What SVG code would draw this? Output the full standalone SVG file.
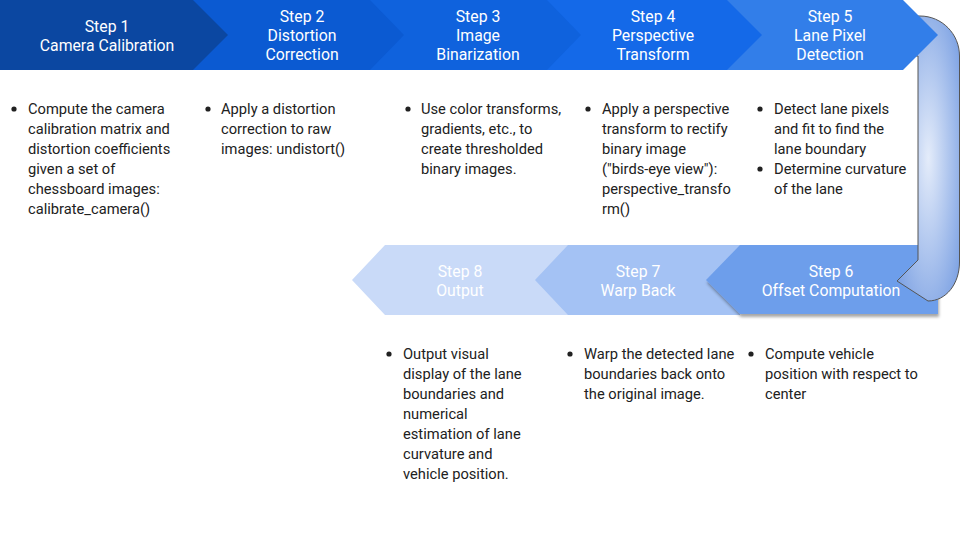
<svg xmlns="http://www.w3.org/2000/svg" width="960" height="540" viewBox="0 0 960 540">
<defs>
<style>
.lbl{font-family:Roboto,"Liberation Sans",sans-serif;font-size:15.8px;fill:#ffffff;text-anchor:middle}
.txt{font-family:Roboto,"Liberation Sans",sans-serif;font-size:14.7px;fill:#212121}
.dot{fill:#212121}
</style>
<radialGradient id="ug" cx="0.5" cy="0.5" r="0.62">
<stop offset="0" stop-color="#e4ecfa"/>
<stop offset="1" stop-color="#80a4e4"/>
</radialGradient>
<filter id="sh" x="-10%" y="-20%" width="125%" height="150%">
<feDropShadow dx="1" dy="3" stdDeviation="1.5" flood-color="#000" flood-opacity="0.35"/>
</filter>
</defs>
<rect width="960" height="540" fill="#ffffff"/>

<g id="step8">
<path d="M352 280 L385 245 L570 245 L570 315 L385 315 Z" fill="#c9daf8"/>
<text class="lbl" x="460" y="277">Step 8</text>
<text class="lbl" x="460" y="296">Output</text>
<circle class="dot" cx="389" cy="354" r="2.6"/>
<text class="txt" x="403" y="359">Output visual</text>
<text class="txt" x="403" y="379">display of the lane</text>
<text class="txt" x="403" y="399">boundaries and</text>
<text class="txt" x="403" y="419">numerical</text>
<text class="txt" x="403" y="439">estimation of lane</text>
<text class="txt" x="403" y="459">curvature and</text>
<text class="txt" x="403" y="479">vehicle position.</text>
</g>

<g id="step7">
<path d="M535 280 L568 245 L740 245 L740 315 L568 315 Z" fill="#a4c2f4"/>
<text class="lbl" x="638" y="277">Step 7</text>
<text class="lbl" x="638" y="296">Warp Back</text>
<circle class="dot" cx="570" cy="354" r="2.6"/>
<text class="txt" x="584" y="359">Warp the detected lane</text>
<text class="txt" x="584" y="379">boundaries back onto</text>
<text class="txt" x="584" y="399">the original image.</text>
</g>

<g id="step6">
<path d="M706 280 L740 245 L938 245 L938 314 L740 314 Z" fill="#6d9eeb" filter="url(#sh)"/>
<text class="lbl" x="831" y="277">Step 6</text>
<text class="lbl" x="831" y="296">Offset Computation</text>
<circle class="dot" cx="751" cy="354" r="2.6"/>
<text class="txt" x="765" y="359">Compute vehicle</text>
<text class="txt" x="765" y="379">position with respect to</text>
<text class="txt" x="765" y="399">center</text>
</g>

<g id="connectors">
<path d="M900 16 L920 16 C942 16 959.5 34 959.5 56 L959.5 262 C959.5 284 946 301 928 301 L897 281 L918 260 L918 56 L900 56 Z" fill="url(#ug)" stroke="#555555" stroke-width="1"/>
</g>

<g id="step5">
<path d="M725 0 L903 0 L938 35 L903 70 L725 70 Z" fill="#327ee9"/>
<text class="lbl" x="830" y="22">Step 5</text>
<text class="lbl" x="830" y="41">Lane Pixel</text>
<text class="lbl" x="830" y="60">Detection</text>
<circle class="dot" cx="760" cy="109" r="2.6"/>
<text class="txt" x="774" y="114">Detect lane pixels</text>
<text class="txt" x="774" y="134">and fit to find the</text>
<text class="txt" x="774" y="154">lane boundary</text>
<circle class="dot" cx="760" cy="169" r="2.6"/>
<text class="txt" x="774" y="174">Determine curvature</text>
<text class="txt" x="774" y="194">of the lane</text>
</g>

<g id="step4">
<path d="M547 0 L727 0 L762 35 L727 70 L547 70 Z" fill="#1469e8"/>
<text class="lbl" x="653" y="22">Step 4</text>
<text class="lbl" x="653" y="41">Perspective</text>
<text class="lbl" x="653" y="60">Transform</text>
<circle class="dot" cx="588" cy="109" r="2.6"/>
<text class="txt" x="602" y="114">Apply a perspective</text>
<text class="txt" x="602" y="134">transform to rectify</text>
<text class="txt" x="602" y="154">binary image</text>
<text class="txt" x="602" y="174">("birds-eye view"):</text>
<text class="txt" x="602" y="194">perspective_transfo</text>
<text class="txt" x="602" y="214">rm()</text>
</g>

<g id="step3">
<path d="M370 0 L547 0 L581 35 L547 70 L370 70 Z" fill="#0f62dd"/>
<text class="lbl" x="478" y="22">Step 3</text>
<text class="lbl" x="478" y="41">Image</text>
<text class="lbl" x="478" y="60">Binarization</text>
<circle class="dot" cx="408" cy="109" r="2.6"/>
<text class="txt" x="421" y="114">Use color transforms,</text>
<text class="txt" x="421" y="134">gradients, etc., to</text>
<text class="txt" x="421" y="154">create thresholded</text>
<text class="txt" x="421" y="174">binary images.</text>
</g>

<g id="step2">
<path d="M193 0 L370 0 L404 35 L370 70 L193 70 Z" fill="#0b5ad2"/>
<text class="lbl" x="302" y="22">Step 2</text>
<text class="lbl" x="302" y="41">Distortion</text>
<text class="lbl" x="302" y="60">Correction</text>
<circle class="dot" cx="208" cy="109" r="2.6"/>
<text class="txt" x="221" y="114">Apply a distortion</text>
<text class="txt" x="221" y="134">correction to raw</text>
<text class="txt" x="221" y="154">images: undistort()</text>
</g>

<g id="step1">
<path d="M0 0 L193 0 L228 35 L193 70 L0 70 Z" fill="#0b47a1"/>
<text class="lbl" x="107" y="32">Step 1</text>
<text class="lbl" x="107" y="51">Camera Calibration</text>
<circle class="dot" cx="14" cy="109" r="2.6"/>
<text class="txt" x="28" y="114">Compute the camera</text>
<text class="txt" x="28" y="134">calibration matrix and</text>
<text class="txt" x="28" y="154">distortion coefficients</text>
<text class="txt" x="28" y="174">given a set of</text>
<text class="txt" x="28" y="194">chessboard images:</text>
<text class="txt" x="28" y="214">calibrate_camera()</text>
</g>
</svg>
